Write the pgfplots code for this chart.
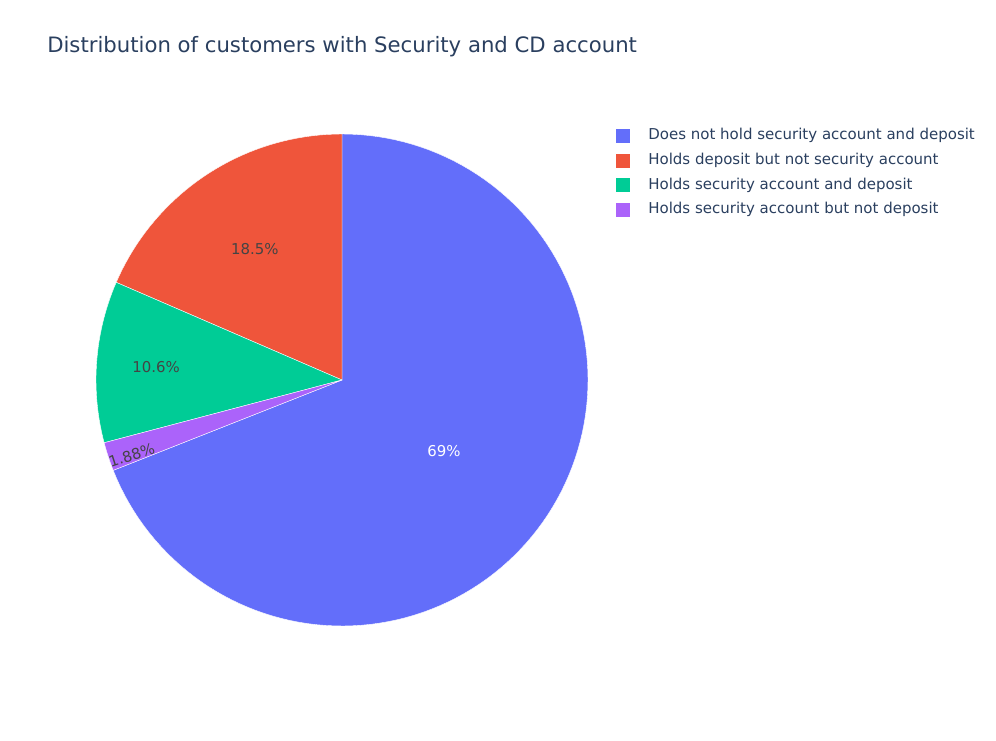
\documentclass[border=0pt]{standalone}
\usepackage{pgfplots}
\pgfplotsset{compat=1.18}
\usepackage{fontspec}
\setmainfont{DejaVu Sans}
\definecolor{cA}{HTML}{636EFA}
\definecolor{cB}{HTML}{EF553B}
\definecolor{cC}{HTML}{00CC96}
\definecolor{cD}{HTML}{AB63FA}
\definecolor{titlec}{HTML}{2A3F5F}
\definecolor{labc}{HTML}{444444}
% values (percent)
\def\vA{69}    % Does not hold security account and deposit
\def\vB{18.5}  % Holds deposit but not security account
\def\vC{10.6}  % Holds security account and deposit
\def\vD{1.88}  % Holds security account but not deposit
\pgfmathsetmacro\tot{\vA+\vB+\vC+\vD}
\pgfmathsetmacro\kk{360/\tot}
% clockwise from top: A, D, C, B
\pgfmathsetmacro\aZero{90}
\pgfmathsetmacro\aOne{90-\kk*\vA}
\pgfmathsetmacro\aTwo{\aOne-\kk*\vD}
\pgfmathsetmacro\aThree{\aTwo-\kk*\vC}
\pgfmathsetmacro\aFour{\aThree-\kk*\vB}
\begin{document}
\begin{tikzpicture}
\useasboundingbox (0,0) rectangle (747pt,555pt);
\node[anchor=west, text=titlec, font=\fontsize{15.9pt}{18pt}\selectfont, inner sep=0pt] at (35.25pt,519.75pt) {Distribution of customers with Security and CD account};
\begin{axis}[
  at={(256.5pt,270pt)}, anchor=center,
  scale only axis, width=369pt, height=369pt,
  xmin=-1, xmax=1, ymin=-1, ymax=1,
  hide axis, clip=false,
  legend cell align=left,
  legend style={at={(axis cs:1.114,1.022)}, anchor=north west, draw=none, fill=none,
    font=\fontsize{11.25pt}{13pt}\selectfont, text=titlec, row sep=7.9pt, inner sep=0pt,
    nodes={inner sep=0pt, text height=8.3pt, text depth=2.3pt},
    /tikz/every odd column/.append style={column sep=13.5pt}},
  legend image code/.code={\fill[#1, draw=none] (0pt,-5.25pt) rectangle (10.5pt,5.25pt);},
]
\addplot[fill=cA, draw=white, line width=0.3pt, domain=\aOne:\aZero, samples=120, variable=\t] ({cos(t)},{sin(t)}) -- (axis cs:0,0) -- cycle;
\addlegendentry{Does not hold security account and deposit}
\addplot[fill=cB, draw=white, line width=0.3pt, domain=\aFour:\aThree, samples=40, variable=\t] ({cos(t)},{sin(t)}) -- (axis cs:0,0) -- cycle;
\addlegendentry{Holds deposit but not security account}
\addplot[fill=cC, draw=white, line width=0.3pt, domain=\aThree:\aTwo, samples=30, variable=\t] ({cos(t)},{sin(t)}) -- (axis cs:0,0) -- cycle;
\addlegendentry{Holds security account and deposit}
\addplot[fill=cD, draw=white, line width=0.3pt, domain=\aTwo:\aOne, samples=10, variable=\t] ({cos(t)},{sin(t)}) -- (axis cs:0,0) -- cycle;
\addlegendentry{Holds security account but not deposit}
\node[text=white, font=\fontsize{11.2pt}{13pt}\selectfont] at (axis cs:0.415,-0.289) {69\%};
\node[text=labc, font=\fontsize{11.2pt}{13pt}\selectfont] at (axis cs:-0.354,0.533) {18.5\%};
\node[text=labc, font=\fontsize{11.2pt}{13pt}\selectfont] at (axis cs:-0.756,0.053) {10.6\%};
\node[text=labc, font=\fontsize{11.2pt}{13pt}\selectfont, rotate=18] at (axis cs:-0.855,-0.305) {1.88\%};
\end{axis}
\end{tikzpicture}
\end{document}
